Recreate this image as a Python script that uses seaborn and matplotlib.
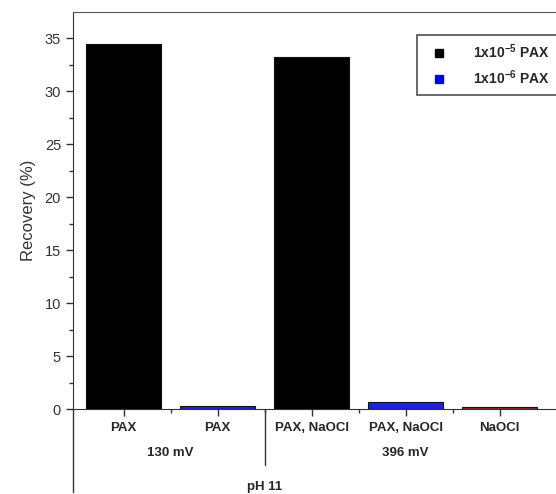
import pandas as pd
import matplotlib.pyplot as plt
import seaborn as sns
from matplotlib.lines import Line2D

# data
labels = ["PAX", "PAX", "PAX, NaOCl", "PAX, NaOCl", "NaOCl"]
recovery = [34.5, 0.3, 33.2, 0.7, 0.15]
series = ["1e-5", "1e-6", "1e-5", "1e-6", "none"]
groups = ["130 mV", "396 mV"]
group_pos = [0.5, 3.0]
colors = {"1e-5": "black", "1e-6": "#0000ff", "none": "#9b1c1c"}
legend_text = [r"1x10$^{\mathbf{-5}}$ PAX", r"1x10$^{\mathbf{-6}}$ PAX"]

df = pd.DataFrame({"pos": range(len(labels)), "Recovery": recovery, "series": series})

sns.set_style("ticks")
plt.rcParams["font.family"] = ["Liberation Sans", "DejaVu Sans"]
plt.rcParams["mathtext.fontset"] = "custom"
plt.rcParams["mathtext.bf"] = "Liberation Sans:bold"
plt.rcParams["mathtext.rm"] = "Liberation Sans:bold"

fig = plt.figure(figsize=(5.56, 4.94), dpi=100)
ax = fig.add_axes([0.131, 0.172, 0.869, 0.804])
sns.barplot(df, x="pos", y="Recovery", hue="series", palette=colors,
            dodge=False, width=0.79, edgecolor="#111111", linewidth=0.8,
            legend=False, ax=ax)

ax.set_xlim(-0.54, 4.6)
ax.set_ylim(0, 37.5)
ax.set_yticks(range(0, 36, 5))
ax.set_yticks([v + 2.5 for v in range(0, 35, 5)], minor=True)
ax.set_xticks(range(len(labels)))
ax.set_xticklabels(labels, fontweight="bold", fontsize=9.5)
ax.set_xticks([i + 0.5 for i in range(len(labels) - 1)], minor=True)
ax.tick_params(axis="both", which="major", length=5, width=1, color="#333333", labelsize=10.5)
ax.tick_params(axis="x", labelsize=9.5, pad=4)
ax.tick_params(axis="both", which="minor", length=3, width=1, color="#333333")
ax.set_xlabel("")
ax.set_ylabel("Recovery (%)", fontsize=12, color="#333333", labelpad=6)
for lab in ax.get_yticklabels():
    lab.set_color("#333333")
ax.spines["right"].set_visible(False)
ax.spines["top"].set_color("#555555")
for s in ["left", "bottom"]:
    ax.spines[s].set_color("#333333")

# extended left axis and group separator below the axis (axes-fraction y)
trans = ax.get_xaxis_transform()
ax.plot([-0.54, -0.54], [0, -0.21], color="#333333", lw=1, clip_on=False, transform=trans)
ax.plot([1.5, 1.5], [0, -0.142], color="#333333", lw=1, clip_on=False, transform=trans)
for name, p in zip(groups, group_pos):
    ax.text(p, -0.11, name, ha="center", va="center", fontsize=9.5, fontweight="bold",
            transform=trans)
ax.text(1.5, -0.197, "pH 11", ha="center", va="center", fontsize=9.5, fontweight="bold",
        transform=trans)

handles = [Line2D([], [], marker="s", ls="", color=colors[k], markersize=5.5)
           for k in ["1e-5", "1e-6"]]
leg = ax.legend(handles, legend_text, loc="upper left", bbox_to_anchor=(0.698, 0.96),
                frameon=True, fancybox=False, edgecolor="#222222", borderpad=0.55,
                labelspacing=0.55, prop={"weight": "bold", "size": 10}, handletextpad=1.5)
leg.get_frame().set_linewidth(1.2)

fig.savefig("out.png", dpi=100)
